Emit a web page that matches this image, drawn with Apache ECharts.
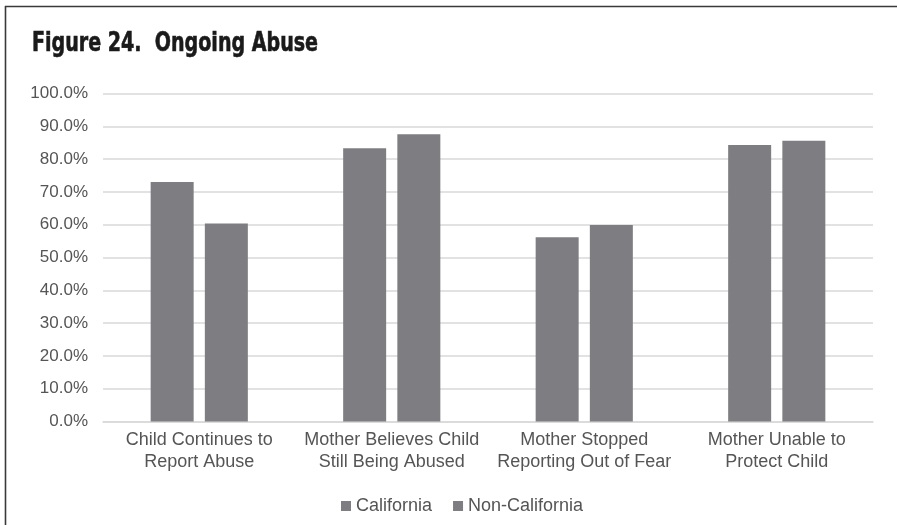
<!DOCTYPE html>
<html>
<head>
<meta charset="utf-8">
<script src="https://cdn.jsdelivr.net/npm/echarts@6/dist/echarts.min.js"></script>
<style>
html,body{margin:0;padding:0;background:#fff;}
#chart{width:897px;height:525px;}
</style>
</head>
<body>
<div id="chart"></div>
<script>
const categories = [
  "Child Continues to\nReport Abuse",
  "Mother Believes Child\nStill Being Abused",
  "Mother Stopped\nReporting Out of Fear",
  "Mother Unable to\nProtect Child"
];
const california = [73.0, 83.3, 56.2, 84.3];
const nonCalifornia = [60.4, 87.6, 59.9, 85.6];
const seriesNames = ["California", "Non-California"];

const chart = echarts.init(document.getElementById('chart'));
const barColor = '#7e7e82';
const ff = '"Liberation Sans", Arial, Helvetica, sans-serif';
chart.setOption({
  animation: false,
  backgroundColor: '#fff',
  graphic: [
    { type: 'line', shape: { x1: 5.5, y1: 6, x2: 5.5, y2: 525 }, style: { stroke: '#3a3a3a', lineWidth: 1.6 } },
    { type: 'line', shape: { x1: 5, y1: 6.5, x2: 897, y2: 6.5 }, style: { stroke: '#3a3a3a', lineWidth: 1.6 } },
    { type: 'text', x: 32, y: 30, scaleX: 0.785, style: { text: 'Figure 24.  Ongoing Abuse', fill: '#1a1a1a', stroke: '#1a1a1a', lineWidth: 0.6, verticalAlign: 'top', font: 'bold 27px "DejaVu Sans Condensed", "DejaVu Sans", sans-serif' } }
  ],
  grid: { left: 103, right: 24, top: 93.5, bottom: 103.5, containLabel: false },
  legend: {
    bottom: 5,
    left: 336,
    itemWidth: 10,
    itemHeight: 10,
    itemGap: 21,
    icon: 'rect',
    textStyle: { color: '#555', fontSize: 18, fontFamily: ff },
    data: seriesNames
  },
  xAxis: {
    type: 'category',
    data: categories,
    axisLine: { show: true, lineStyle: { color: '#d9d9d9', width: 1.5 } },
    axisTick: { show: false },
    axisLabel: { color: '#555', fontSize: 18, lineHeight: 22, margin: 8, fontFamily: ff, interval: 0 }
  },
  yAxis: {
    type: 'value',
    min: 0, max: 100, interval: 10,
    axisLine: { show: false },
    axisTick: { show: false },
    splitLine: { lineStyle: { color: '#d9d9d9', width: 1.5 } },
    axisLabel: { color: '#555', fontSize: 17, margin: 15, fontFamily: ff,
      formatter: v => v.toFixed(1) + '%' }
  },
  series: [
    { name: seriesNames[0], type: 'bar', data: california, barWidth: 43, barGap: '26%', itemStyle: { color: barColor } },
    { name: seriesNames[1], type: 'bar', data: nonCalifornia, barWidth: 43, barGap: '26%', itemStyle: { color: barColor } }
  ]
});
</script>
</body>
</html>
